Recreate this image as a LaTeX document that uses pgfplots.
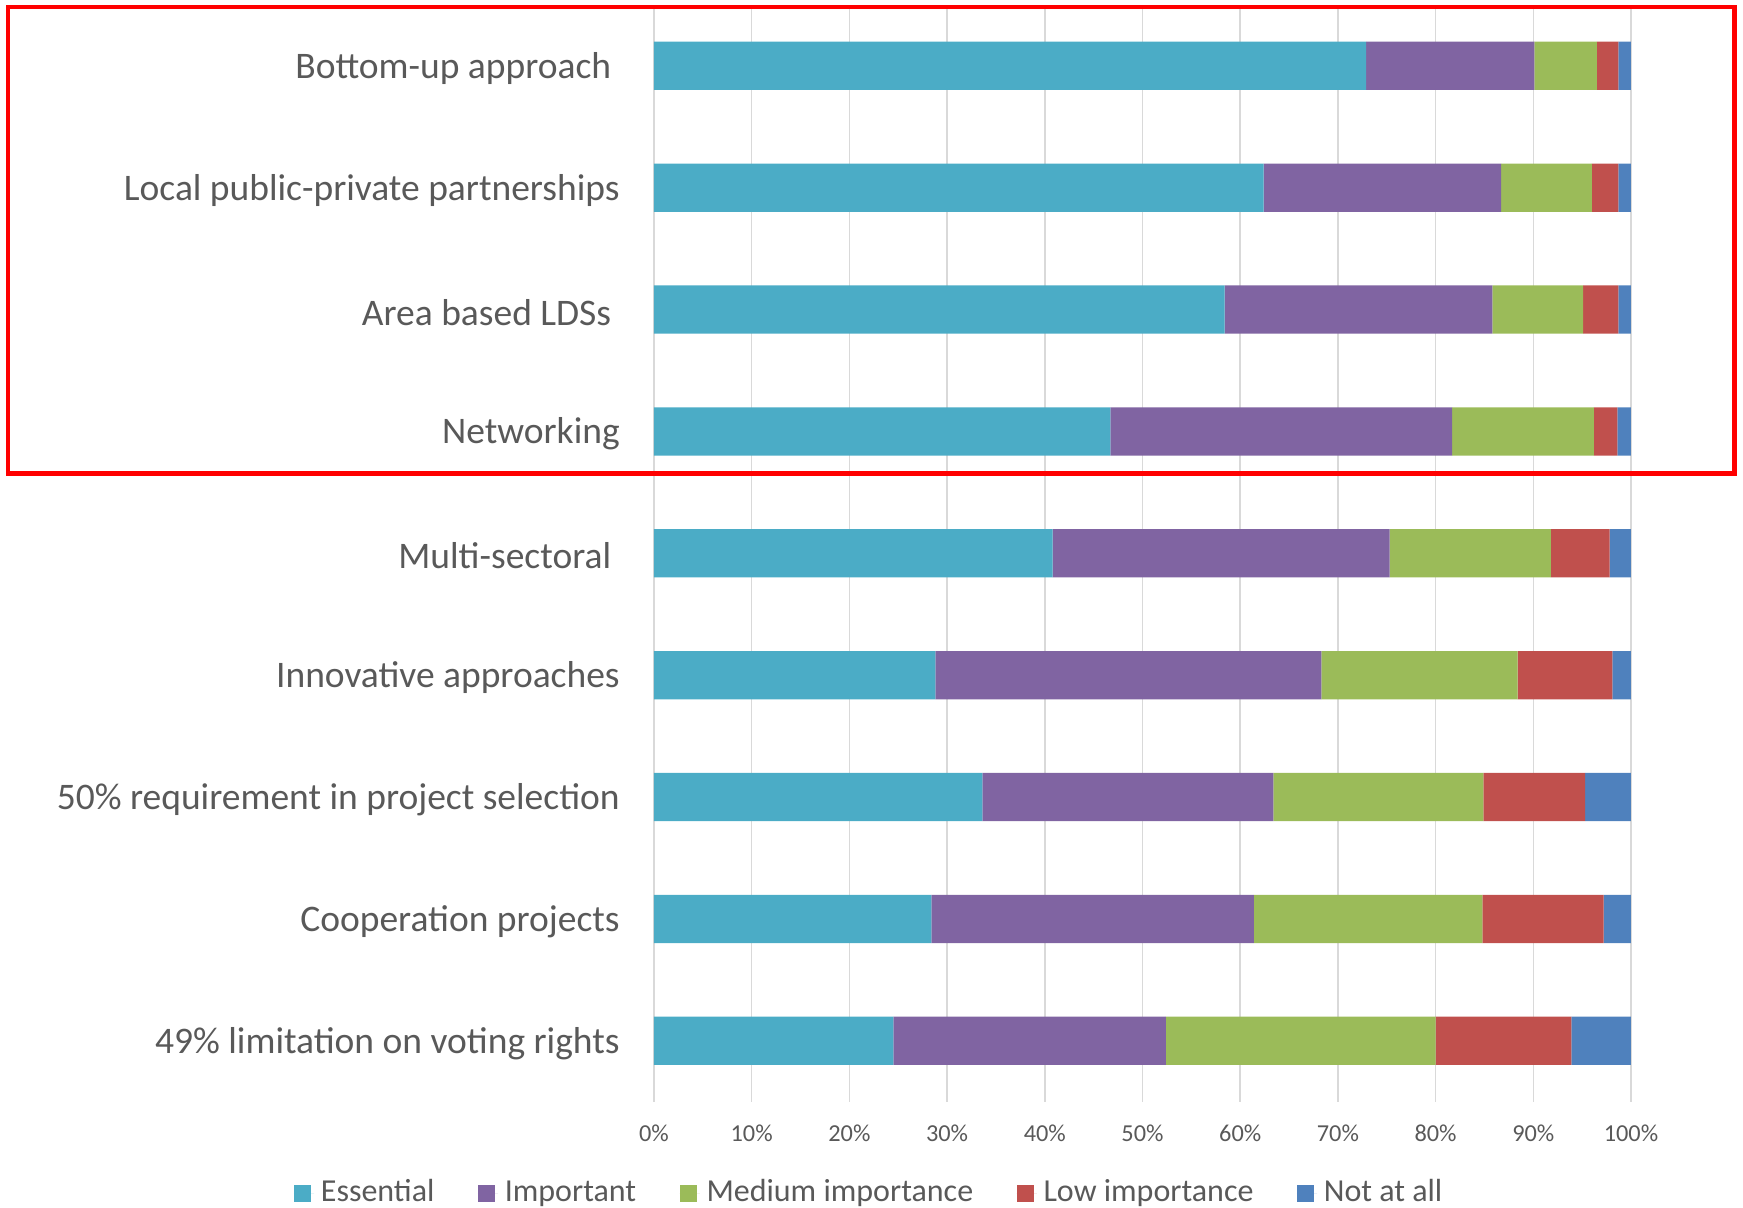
\documentclass[border=0pt]{standalone}
\usepackage{pgfplots}
\pgfplotsset{compat=1.18}
\usepackage{pgfplotstable}
\usepackage{fontspec}
\setmainfont{Carlito}
\definecolor{cEss}{HTML}{4BACC6}
\definecolor{cImp}{HTML}{8064A2}
\definecolor{cMed}{HTML}{9BBB59}
\definecolor{cLow}{HTML}{C0504D}
\definecolor{cNot}{HTML}{4F81BD}
\definecolor{gridgray}{HTML}{D9D9D9}
\definecolor{textgray}{HTML}{595959}
\pgfplotstableread{
cat E I M L N
8 72.9 17.2 6.4 2.2 1.3
7 62.4 24.3 9.3 2.7 1.3
6 58.4 27.4 9.3 3.6 1.3
5 46.7 35.0 14.5 2.4 1.4
4 40.8 34.5 16.5 6.0 2.2
3 28.8 39.5 20.1 9.7 1.9
2 33.6 29.8 21.5 10.4 4.7
1 28.4 33.0 23.4 12.4 2.8
0 24.5 27.9 27.6 13.9 6.1
}\datatable
\begin{document}
\begin{tikzpicture}
\begin{axis}[
  name=ax, at={(0,0)}, anchor=south west,
  scale only axis, width=293.1pt, height=329.1pt,
  xbar stacked, bar width=0.396,
  xmin=0, xmax=100, ymin=-0.5, ymax=8.5,
  xtick={0,10,...,100},
  xticklabels={0\%,10\%,20\%,30\%,40\%,50\%,60\%,70\%,80\%,90\%,100\%},
  ytick={0,...,8},
  yticklabels={49\% limitation on voting rights,Cooperation projects,50\% requirement in project selection,Innovative approaches,Multi-sectoral\kern0.226em,Networking,Area based LDSs\kern0.226em,Local public-private partnerships,Bottom-up approach\kern0.226em},
  xmajorgrids, ymajorgrids=false,
  grid style={color=gridgray, line width=0.45pt},
  axis line style={draw=none},
  major tick length=0pt, tick style={draw=none},
  xticklabel style={font=\fontsize{7.3}{8}\selectfont, text=textgray, anchor=center, yshift=-9.4pt},
  yticklabel style={font=\fontsize{11.25}{13}\selectfont, text=textgray, anchor=east, inner sep=0pt, xshift=-10.1pt, yshift=-0.8pt},
  clip=false,
  legend columns=-1,
  legend style={at={(0.2226,-0.0834)}, anchor=center, draw=none, fill=none,
    font=\fontsize{9.6}{11}\selectfont, text=textgray,
    /tikz/every even column/.append style={column sep=11pt}},
  legend image code/.code={\path (0pt,0pt) -- (6.1pt,0pt);\fill[#1] (0pt,-2.55pt) rectangle (5.1pt,2.55pt);},
]
\addplot[fill=cEss, draw=none] table[x=E, y=cat] {\datatable};
\addplot[fill=cImp, draw=none] table[x=I, y=cat] {\datatable};
\addplot[fill=cMed, draw=none] table[x=M, y=cat] {\datatable};
\addplot[fill=cLow, draw=none] table[x=L, y=cat] {\datatable};
\addplot[fill=cNot, draw=none] table[x=N, y=cat] {\datatable};
\legend{Essential,Important,Medium importance,Low importance,Not at all}
\draw[red, line width=1.35pt] (axis cs:-66.1,8.483) rectangle (axis cs:110.6,4.654);
\end{axis}
\pgfresetboundingbox
\path[use as bounding box] (ax.south west) ++(-196.2pt,-31.56pt) rectangle ++(522.9pt,362.1pt);
\end{tikzpicture}
\end{document}
